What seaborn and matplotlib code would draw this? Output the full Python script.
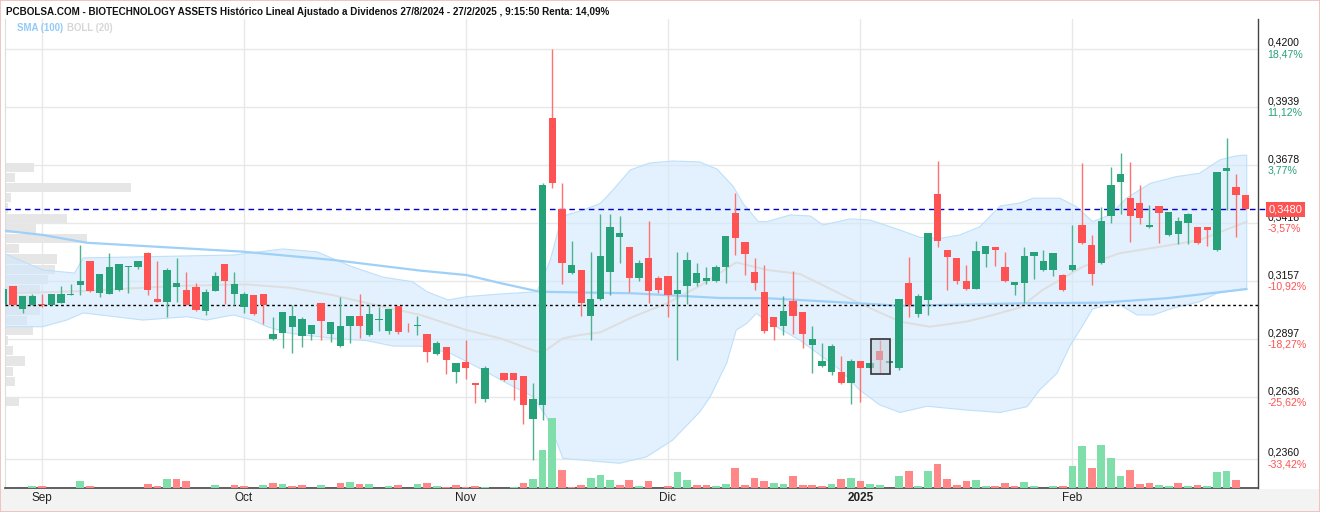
import numpy as np
import matplotlib
matplotlib.use("Agg")
import matplotlib.pyplot as plt
import matplotlib.transforms as mtransforms
from matplotlib.patches import Rectangle
import seaborn as sns

# daily sessions 27/8/2024 .. 27/2/2025 (session 51 had no trades)
opens = [0.3051, 0.3136, 0.3033, 0.3051, 0.3052, 0.3051, 0.3060, 0.3094, 0.3140, 0.3248,
         0.3104, 0.3100, 0.3118, 0.3222, 0.3221, 0.3284, 0.3078, 0.3064, 0.3131, 0.3118,
         0.3131, 0.3024, 0.3113, 0.3235, 0.3100, 0.3043, 0.3095, 0.3100, 0.2898, 0.2925,
         0.2952, 0.2911, 0.2920, 0.3060, 0.2920, 0.2866, 0.2956, 0.3001, 0.2916, 0.2983,
         0.2934, 0.3047, 0.2935, 0.2956, 0.2920, 0.2831, 0.2862, 0.2750, 0.2795, 0.2700,
         0.2628, np.nan, 0.2745, 0.2745, 0.2732, 0.2540, 0.2603, 0.3890, 0.3480, 0.3196,
         0.3208, 0.3002, 0.3078, 0.3200, 0.3357, 0.3311, 0.3172, 0.3262, 0.3172, 0.3181,
         0.3100, 0.3136, 0.3149, 0.3158, 0.3158, 0.3221, 0.3464, 0.3333, 0.3199, 0.3109,
         0.2997, 0.2956, 0.3069, 0.3019, 0.2871, 0.2777, 0.2750, 0.2750, 0.2700, 0.2799,
         0.2768, 0.2844, 0.2790, 0.2768, 0.3149, 0.3010, 0.3073, 0.3549, 0.3298, 0.3262,
         0.3158, 0.3122, 0.3280, 0.3311, 0.3221, 0.3140, 0.3149, 0.3271, 0.3208, 0.3208,
         0.3185, 0.3208, 0.3410, 0.3320, 0.3239, 0.3450, 0.3603, 0.3531, 0.3509, 0.3401,
         0.3495, 0.3365, 0.3369, 0.3419, 0.3401, 0.3401, 0.3298, 0.3652, 0.3580, 0.3544]
highs = [0.3122, 0.3136, 0.3091, 0.3100, 0.3100, 0.3100, 0.3136, 0.3143, 0.3319, 0.3248,
         0.3190, 0.3283, 0.3235, 0.3224, 0.3248, 0.3289, 0.3248, 0.3217, 0.3262, 0.3199,
         0.3149, 0.3122, 0.3199, 0.3235, 0.3199, 0.3110, 0.3095, 0.3100, 0.2998, 0.3019,
         0.3051, 0.2997, 0.2961, 0.3060, 0.2974, 0.3087, 0.3001, 0.3100, 0.3051, 0.3042,
         0.3033, 0.3047, 0.2970, 0.3002, 0.2920, 0.2889, 0.2862, 0.2790, 0.2893, 0.2700,
         0.2777, np.nan, 0.2745, 0.2745, 0.2732, 0.2700, 0.3598, 0.4199, 0.3598, 0.3338,
         0.3208, 0.3289, 0.3459, 0.3459, 0.3450, 0.3311, 0.3253, 0.3428, 0.3181, 0.3181,
         0.3289, 0.3289, 0.3239, 0.3221, 0.3230, 0.3360, 0.3553, 0.3333, 0.3262, 0.3230,
         0.2997, 0.3091, 0.3203, 0.3019, 0.2956, 0.2880, 0.2875, 0.2822, 0.2808, 0.2799,
         0.2790, 0.2893, 0.2799, 0.3078, 0.3266, 0.3100, 0.3374, 0.3697, 0.3298, 0.3262,
         0.3230, 0.3338, 0.3315, 0.3311, 0.3289, 0.3154, 0.3311, 0.3289, 0.3298, 0.3284,
         0.3190, 0.3410, 0.3688, 0.3365, 0.3491, 0.3670, 0.3733, 0.3693, 0.3589, 0.3500,
         0.3495, 0.3468, 0.3446, 0.3464, 0.3401, 0.3401, 0.3648, 0.3800, 0.3639, 0.3544]
lows = [0.3051, 0.3051, 0.3016, 0.3051, 0.3040, 0.3051, 0.3060, 0.3094, 0.3095, 0.3109,
        0.3088, 0.3100, 0.3113, 0.3106, 0.3212, 0.3095, 0.3064, 0.2998, 0.3064, 0.3051,
        0.3024, 0.3006, 0.3113, 0.3055, 0.3051, 0.3016, 0.3006, 0.2965, 0.2893, 0.2857,
        0.2836, 0.2862, 0.2893, 0.2893, 0.2884, 0.2862, 0.2880, 0.2902, 0.2911, 0.2934,
        0.2920, 0.2920, 0.2929, 0.2916, 0.2796, 0.2826, 0.2739, 0.2699, 0.2717, 0.2609,
        0.2616, np.nan, 0.2711, 0.2625, 0.2518, 0.2356, 0.2536, 0.3577, 0.3146, 0.3191,
        0.3002, 0.2895, 0.3073, 0.3097, 0.3241, 0.3110, 0.3158, 0.3061, 0.3104, 0.2998,
        0.2804, 0.3055, 0.3136, 0.3145, 0.3154, 0.3149, 0.3275, 0.3185, 0.3118, 0.2925,
        0.2893, 0.2916, 0.2920, 0.2857, 0.2745, 0.2772, 0.2736, 0.2696, 0.2606, 0.2615,
        0.2768, 0.2745, 0.2790, 0.2759, 0.2997, 0.2997, 0.3006, 0.3311, 0.3118, 0.3145,
        0.3118, 0.3122, 0.3221, 0.3226, 0.3154, 0.3095, 0.3060, 0.3167, 0.3203, 0.3181,
        0.3113, 0.3203, 0.3324, 0.3140, 0.3235, 0.3419, 0.3459, 0.3333, 0.3414, 0.3396,
        0.3329, 0.3360, 0.3324, 0.3324, 0.3324, 0.3315, 0.3293, 0.3477, 0.3356, 0.3480]
closes = [0.3122, 0.3051, 0.3091, 0.3091, 0.3049, 0.3100, 0.3100, 0.3099, 0.3158, 0.3113,
          0.3190, 0.3221, 0.3235, 0.3224, 0.3248, 0.3118, 0.3064, 0.3208, 0.3149, 0.3051,
          0.3028, 0.3109, 0.3181, 0.3158, 0.3145, 0.3100, 0.3010, 0.3051, 0.2920, 0.3019,
          0.3001, 0.2988, 0.2961, 0.2979, 0.2974, 0.2956, 0.3001, 0.2956, 0.3010, 0.2988,
          0.3033, 0.2929, 0.2932, 0.2961, 0.2841, 0.2880, 0.2804, 0.2790, 0.2768, 0.2691,
          0.2768, np.nan, 0.2715, 0.2715, 0.2603, 0.2628, 0.3589, 0.3600, 0.3241, 0.3230,
          0.3061, 0.3078, 0.3271, 0.3401, 0.3375, 0.3173, 0.3239, 0.3113, 0.3118, 0.3095,
          0.3118, 0.3253, 0.3194, 0.3172, 0.3221, 0.3360, 0.3351, 0.3280, 0.3149, 0.2934,
          0.2952, 0.3024, 0.3001, 0.2920, 0.2898, 0.2799, 0.2866, 0.2700, 0.2799, 0.2768,
          0.2790, 0.2804, 0.2799, 0.3078, 0.3051, 0.3091, 0.3374, 0.3338, 0.3266, 0.3158,
          0.3122, 0.3293, 0.3315, 0.3298, 0.3158, 0.3154, 0.3271, 0.3289, 0.3248, 0.3284,
          0.3118, 0.3230, 0.3329, 0.3190, 0.3428, 0.3589, 0.3639, 0.3450, 0.3441, 0.3410,
          0.3464, 0.3468, 0.3428, 0.3459, 0.3329, 0.3387, 0.3648, 0.3666, 0.3544, 0.3480]
volume = [0, 0, 0, 2, 2, 0, 0, 0, 7, 2, 0, 0, 0, 0, 0, 4, 2, 9, 9, 7,
          0, 0, 3, 0, 3, 2, 0, 3, 5, 4, 2, 3, 0, 3, 0, 5, 6, 4, 4, 0,
          2, 3, 0, 4, 5.5, 2.3, 1.3, 3.3, 1.3, 2.3, 1.3, 0, 0, 1.3, 5, 9, 37.7, 70, 18, 1.3,
          3.3, 10, 13.3, 8, 3.3, 8.5, 2.5, 7, 0, 2, 16, 8, 3, 3, 2, 4, 20, 3, 10, 7,
          5, 4, 12, 3, 3, 2, 4, 9, 10, 7, 4, 3, 0, 12, 17, 2, 17, 24, 9, 3,
          7, 8, 2, 2, 5, 2, 6, 2, 0, 2, 2, 22, 42, 20, 43.3, 30, 12, 18, 4, 5,
          3, 2, 5, 2, 3, 2, 16, 17, 8, 0]

# indicators (x = session index)
sma_x = [0.2, 4.1, 8.7, 17.6, 24.9, 34.2, 43.3, 48.1, 51.6, 55.7, 65.4, 74.4, 79.3, 88.9,
         93.1, 105.6, 113.9, 120.8, 129.1]
sma100 = [0.3384, 0.3365, 0.3330, 0.3308, 0.3290, 0.3253, 0.3205, 0.3185, 0.3149, 0.3110,
          0.3103, 0.3082, 0.3081, 0.3058, 0.3047, 0.3058, 0.3061, 0.3081, 0.3122]
bb_mid_x = [0.2, 8.3, 13.5, 18.7, 25.3, 29.8, 34.2, 39.4, 43.3, 48.1, 51.6, 55.4, 56.4, 58.1,
            59.9, 62.0, 65.4, 68.9, 72.3, 76.1, 79.3, 82.7, 86.1, 88.9, 93.1, 96.2, 100.0,
            102.8, 105.6, 107.9, 112.1, 115.9, 120.1, 124.2, 129.1]
bb_mid = [0.3103, 0.3113, 0.3126, 0.3137, 0.3143, 0.3128, 0.3095, 0.3043, 0.3006, 0.2938,
          0.2901, 0.2841, 0.2849, 0.2901, 0.2916, 0.2928, 0.2998, 0.3058, 0.3136, 0.3242,
          0.3208, 0.3190, 0.3118, 0.3058, 0.2976, 0.2953, 0.2976, 0.3006, 0.3040, 0.3118,
          0.3223, 0.3283, 0.3312, 0.3342, 0.3425]
bb_up_x = [0.2, 4.1, 7.4, 8.3, 13.2, 23.9, 29.0, 32.6, 36.0, 39.4, 42.5, 44.0, 46.2, 48.1,
           51.6, 55.4, 56.8, 57.8, 58.5, 60.2, 62.0, 63.3, 65.1, 67.1, 69.5, 72.3, 74.1,
           75.8, 76.8, 78.4, 79.3, 81.7, 83.8, 85.1, 87.9, 90.0, 93.1, 95.2, 97.3, 99.3,
           101.4, 103.5, 105.6, 106.9, 109.7, 111.4, 113.1, 114.9, 116.6, 119.1, 121.8,
           124.2, 126.3, 128.0, 129.1]
bb_up = [0.3280, 0.3208, 0.3194, 0.3262, 0.3266, 0.3275, 0.3302, 0.3289, 0.3226, 0.3176,
         0.3155, 0.3110, 0.3073, 0.3088, 0.3100, 0.3110, 0.3253, 0.3417, 0.3455, 0.3477,
         0.3507, 0.3567, 0.3657, 0.3688, 0.3697, 0.3693, 0.3661, 0.3582, 0.3507, 0.3425,
         0.3425, 0.3455, 0.3450, 0.3410, 0.3437, 0.3432, 0.3387, 0.3354, 0.3350, 0.3365,
         0.3402, 0.3495, 0.3509, 0.3530, 0.3530, 0.3492, 0.3425, 0.3455, 0.3530, 0.3597,
         0.3627, 0.3642, 0.3702, 0.3720, 0.3724]
bb_lo_x = [0.2, 4.1, 6.6, 8.3, 14.5, 19.1, 21.1, 23.9, 25.9, 27.4, 29.8, 34.2, 37.8, 40.5,
           43.3, 46.4, 49.8, 52.3, 55.0, 56.4, 57.5, 58.1, 62.0, 64.0, 66.8, 69.5, 72.3,
           73.4, 75.1, 76.1, 77.2, 78.2, 79.3, 82.7, 86.9, 88.9, 91.0, 93.1, 95.9, 100.0,
           103.5, 106.3, 107.6, 109.4, 110.7, 112.1, 113.1, 115.6, 117.7, 119.4, 121.4,
           124.2, 126.0, 129.1]
bb_lo = [0.2953, 0.2953, 0.2983, 0.3015, 0.2983, 0.2998, 0.2983, 0.3006, 0.2983, 0.2953,
         0.2923, 0.2901, 0.2890, 0.2866, 0.2866, 0.2834, 0.2759, 0.2699, 0.2639, 0.2549,
         0.2430, 0.2362, 0.2347, 0.2340, 0.2369, 0.2444, 0.2570, 0.2639, 0.2789, 0.2938,
         0.2968, 0.3013, 0.2976, 0.2893, 0.2759, 0.2669, 0.2602, 0.2568, 0.2596, 0.2579,
         0.2568, 0.2594, 0.2669, 0.2744, 0.2863, 0.2961, 0.3033, 0.3060, 0.3006, 0.3006,
         0.3036, 0.3065, 0.3103, 0.3126]

# volume by price (left side)
profile_price = [0.3669, 0.3623, 0.3577, 0.3532, 0.3486, 0.3440, 0.3394, 0.3348, 0.3303,
                 0.3257, 0.3211, 0.3165, 0.3119, 0.3074, 0.3028, 0.2982, 0.2936, 0.2890,
                 0.2845, 0.2799, 0.2753, 0.2707, 0.2661, 0.2616]
profile_vol = [28.7, 10, 125.7, 6, 2.7, 61.7, 31, 81.7, 14, 52, 49.7, 42.7, 35, 30, 35,
               22, 28.3, 3.3, 7.7, 20, 7.7, 10, 0, 13.7]

tick_prices = [0.4200, 0.3939, 0.3678, 0.3418, 0.3157, 0.2897, 0.2636, 0.2360]
tick_pct = ["18,47%", "11,12%", "3,77%", "-3,57%", "-10,92%", "-18,27%", "-25,62%", "-33,42%"]
month_idx = [4, 25, 48, 69, 89, 111]
month_labels = ["Sep", "Oct", "Nov", "Dic", "2025", "Feb"]
last_price = 0.3480
buy_price = 0.3050
highlight_idx = 91

title = ("PCBOLSA.COM - BIOTECHNOLOGY ASSETS Histórico Lineal Ajustado a Dividenos "
         "27/8/2024 - 27/2/2025 , 9:15:50 Renta: 14,09%")

GREEN = "#26a17a"
RED = "#ff5252"

sns.set_style("white")
plt.rcParams['font.family'] = ['Liberation Sans', 'DejaVu Sans']

o = np.array(opens); h = np.array(highs); l = np.array(lows); c = np.array(closes)
vol = np.array(volume, dtype=float)
idx = np.arange(len(o))
ok = ~np.isnan(o)
up = c >= o
prev_c = np.r_[c[0], c[:-1]]
vol_up = c >= prev_c

fig = plt.figure(figsize=(13.2, 5.12), dpi=100)
fig.patches.append(Rectangle((0, 0), 1, 23 / 512, transform=fig.transFigure,
                             facecolor="#f3f3f3", edgecolor="none", zorder=-5))
ax = fig.add_axes([5 / 1320, 24 / 512, 1253 / 1320, 469 / 512])
ax.set_xlim(0.18, 130.27)
ax.set_ylim(0.22289, 0.43347)

# volume profile
span = 130.27 - 0.18
prof_len = np.array(profile_vol) / max(profile_vol) * 0.1003 * span
ax.barh(profile_price, prof_len, left=0.18, height=0.0041, color="#e6e6e6",
        edgecolor="none", zorder=1)

# bollinger band
poly_x = np.r_[bb_up_x, bb_lo_x[::-1]]
poly_y = np.r_[bb_up, bb_lo[::-1]]
ax.fill(poly_x, poly_y, facecolor=(208 / 255, 233 / 255, 252 / 255, 0.6),
        edgecolor=(190 / 255, 224 / 255, 250 / 255), lw=0.8, zorder=2)
sns.lineplot(x=bb_mid_x, y=bb_mid, ax=ax, color="#dedede", lw=1.4, zorder=3)
sns.lineplot(x=sma_x, y=sma100, ax=ax, color="#9fd0f7", lw=1.6, zorder=3)

# reference lines
ax.axhline(buy_price, color="black", lw=1.0, ls=(0, (2, 2)), zorder=4)
blend = mtransforms.blended_transform_factory(ax.transAxes, ax.transData)
ax.plot([0, 1.007], [last_price, last_price], transform=blend, color="#0000c8",
        lw=1.0, ls=(0, (4, 3)), clip_on=False, zorder=4)

# candles
cols = np.where(up, GREEN, RED)
wick_cols = np.where(up, "#4fb28f", "#ff7272")
ax.vlines(idx[ok], l[ok], h[ok], colors=wick_cols[ok], lw=1.0, zorder=5)
body_lo = np.minimum(o, c)
body_h = np.maximum(np.abs(c - o), 0.0004)
ax.bar(idx[ok], body_h[ok], bottom=body_lo[ok], width=0.76, color=cols[ok],
       edgecolor="none", zorder=6)

# highlighted session
hi = highlight_idx
ax.add_patch(Rectangle((hi - 0.9, l[hi] - 0.0003), 2.0, h[hi] - l[hi] + 0.0008,
                       facecolor=(0.78, 0.82, 0.86, 0.55), edgecolor="#333333",
                       lw=1.2, zorder=7))

# volume
axv = ax.twinx()
axv.set_ylim(0, vol.max() * 6.71)
axv.bar(idx, vol, width=0.8, color=np.where(vol_up, "#80deaa", "#ff8787"),
        edgecolor="none")
axv.set_axis_off()

# grid and axes
ax.set_yticks(tick_prices)
ax.set_xticks(month_idx)
ax.set_xticklabels(month_labels, fontsize=8.5, color="#222222")
ax.get_xticklabels()[4].set_fontweight("bold")
ax.tick_params(axis="x", length=0, pad=3)
ax.tick_params(axis="y", length=0, labelleft=False)
ax.grid(True, color="#e8e8e8", lw=1.0)
ax.set_axisbelow(True)
ax.spines["top"].set_visible(False)
ax.spines["left"].set_color("#dddddd")
ax.spines["bottom"].set_color("#444444")
ax.spines["bottom"].set_linewidth(1.2)
ax.spines["right"].set_color("#444444")
ax.spines["right"].set_linewidth(1.0)

# right hand price / percent labels
for p, pct in zip(tick_prices, tick_pct):
    ax.text(1.0075, p + 0.0005, f"{p:.4f}".replace(".", ","), transform=blend,
            ha="left", va="bottom", fontsize=7.6, color="#111111", clip_on=False)
    ax.text(1.0075, p - 0.0003, pct, transform=blend, ha="left", va="top",
            fontsize=7.6, color=RED if pct.startswith("-") else GREEN, clip_on=False)
ax.text(1.0085, last_price, f"{last_price:.4f}".replace(".", ","), transform=blend,
        ha="left", va="center", fontsize=8, color="white", clip_on=False, zorder=10,
        bbox=dict(boxstyle="square,pad=0.25", facecolor=RED, edgecolor="none"))

# header
fig.text(6 / 1320, 1 - 12 / 512, title, fontsize=7.1, fontweight="bold",
         color="#111111", va="center", ha="left")
t_sma = fig.text(17 / 1320, 1 - 28 / 512, "SMA (100)", fontsize=6.9, fontweight="bold",
                 color="#90caf9", va="center", ha="left")
fig.canvas.draw()
x_end = t_sma.get_window_extent(fig.canvas.get_renderer()).x1
fig.text((x_end + 4) / 1320, 1 - 28 / 512, "BOLL (20)", fontsize=6.9, fontweight="bold",
         color="#d6d6d6", va="center", ha="left")

fig.patches.append(Rectangle((0, 0), 1, 1, transform=fig.transFigure, fill=False,
                             edgecolor="#f0b9b9", lw=1.2, zorder=20))

fig.savefig("out.png", dpi=100)
